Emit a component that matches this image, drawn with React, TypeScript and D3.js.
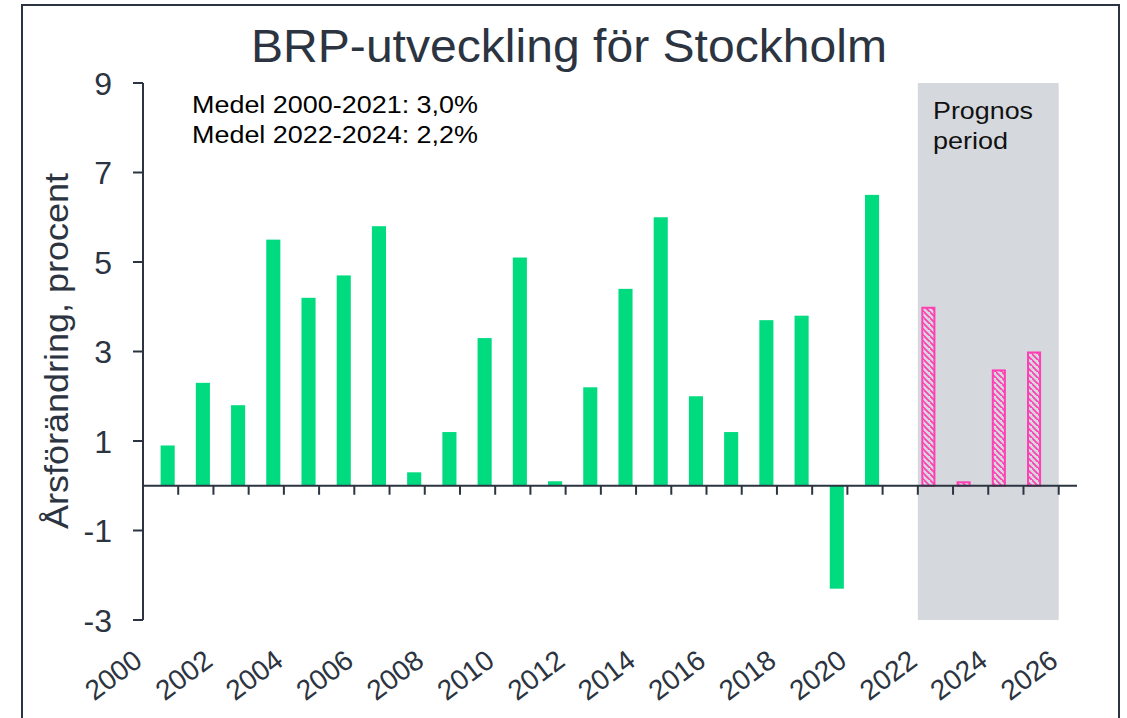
import React from "react";
import * as d3 from "d3";

const title = "BRP-utveckling för Stockholm";
const yAxisTitle = "Årsförändring, procent";
const annotations = ["Medel 2000-2021: 3,0%", "Medel 2022-2024: 2,2%"];
const forecastLabel = ["Prognos", "period"];

const categories = d3.range(2000, 2026); // 2000..2025
const tickLabelYears = [2000, 2002, 2004, 2006, 2008, 2010, 2012, 2014, 2016, 2018, 2020, 2022, 2024, 2026];
const yTicks = [9, 7, 5, 3, 1, -1, -3];

const actualYears = d3.range(2000, 2021);
const actualValues = [0.9, 2.3, 1.8, 5.5, 4.2, 4.7, 5.8, 0.3, 1.2, 3.3, 5.1, 0.1, 2.2, 4.4, 6.0, 2.0, 1.2, 3.7, 3.8, -2.3, 6.5];

const forecastYears = [2022, 2023, 2024, 2025];
const forecastValues = [4.0, 0.1, 2.6, 3.0];

const forecastPeriod = [2022, 2026];

const W = 1127, H = 718;
const AX = "#2b3440";
const GREEN = "#00db80";
const PINK = "#ff3fb4";
const GRAY = "#d5d8dd";
const FONT = "'Liberation Sans', Arial, sans-serif";

export default function App() {
  const x0 = 143, x1 = 1058.7;
  const x = d3.scaleBand<number>().domain(categories).range([x0, x1]).paddingInner(0).paddingOuter(0);
  const bw = x.bandwidth();
  const sub = d3.scaleBand<string>().domain(["forecast", "actual"]).range([bw * 0.1, bw * 0.9]);
  const boundary = (yr: number) => x0 + (yr - 2000) * bw;
  const y = d3.scaleLinear().domain([-3, 9]).range([620, 83]);
  const y0 = y(0);

  return (
    <svg width={W} height={H} style={{ position: "absolute", left: 0, top: 0 }} fontFamily={FONT}>
      <defs>
        <pattern id="hatch" patternUnits="userSpaceOnUse" width={6} height={6}>
          <path d="M-1,-1 L7,7 M-4,2 L2,8 M4,-4 L10,2" stroke={PINK} strokeWidth={1.8} />
        </pattern>
      </defs>
      <rect x={0} y={0} width={W} height={H} fill="#fff" />
      <rect x={22} y={5} width={1097} height={740} fill="none" stroke={AX} strokeWidth={2} />

      <text x={569} y={62} textAnchor="middle" fontSize={46} fill={AX} textLength={636} lengthAdjust="spacingAndGlyphs">{title}</text>

      {/* forecast shading */}
      <rect x={boundary(forecastPeriod[0])} y={y(9)} width={boundary(forecastPeriod[1]) - boundary(forecastPeriod[0])} height={y(-3) - y(9)} fill={GRAY} />
      <text x={933} y={119} fontSize={24.5} fill="#111" textLength={100} lengthAdjust="spacingAndGlyphs">{forecastLabel[0]}</text>
      <text x={933} y={149} fontSize={24.5} fill="#111" textLength={75} lengthAdjust="spacingAndGlyphs">{forecastLabel[1]}</text>

      {/* annotations */}
      <text x={192} y={113} fontSize={23} fill="#000" textLength={286} lengthAdjust="spacingAndGlyphs">{annotations[0]}</text>
      <text x={192} y={143} fontSize={23} fill="#000" textLength={286} lengthAdjust="spacingAndGlyphs">{annotations[1]}</text>

      {/* actual bars */}
      {actualYears.map((yr, i) => {
        const v = actualValues[i];
        const bx = (x(yr) as number) + (sub("actual") as number);
        return <rect key={"a" + yr} x={bx} y={Math.min(y(v), y0)} width={sub.bandwidth()} height={Math.abs(y(v) - y0)} fill={GREEN} />;
      })}

      {/* forecast bars */}
      {forecastYears.map((yr, i) => {
        const v = forecastValues[i];
        const bx = (x(yr) as number) + (sub("forecast") as number);
        const top = Math.min(y(v), y0);
        const h = Math.abs(y(v) - y0);
        return (
          <g key={"f" + yr}>
            <rect x={bx + 1} y={top + 1} width={sub.bandwidth() - 2} height={Math.max(h - 1, 1)} fill="url(#hatch)" stroke={PINK} strokeWidth={2} />
          </g>
        );
      })}

      {/* y axis */}
      <line x1={x0} x2={x0} y1={y(9)} y2={y(-3)} stroke={AX} strokeWidth={2} />
      {yTicks.map((t) => (
        <g key={"yt" + t}>
          <line x1={x0 - 10} x2={x0} y1={y(t)} y2={y(t)} stroke={AX} strokeWidth={2} />
          <text x={112} y={y(t) + 11.5} textAnchor="end" fontSize={32} fill={AX}>{t}</text>
        </g>
      ))}
      <text transform={`translate(68,351) rotate(-90)`} textAnchor="middle" fontSize={34} fill={AX} textLength={356} lengthAdjust="spacingAndGlyphs">{yAxisTitle}</text>

      {/* x axis */}
      <line x1={x0} x2={1077} y1={y0} y2={y0} stroke={AX} strokeWidth={2} />
      {categories.map((c) => (
        <line key={"xt" + c} x1={boundary(c + 1)} x2={boundary(c + 1)} y1={y0} y2={y0 + 9} stroke={AX} strokeWidth={2} />
      ))}
      {tickLabelYears.map((yr) => (
        <text key={"xl" + yr} transform={`translate(${boundary(yr) + 1},${664}) rotate(-37)`} textAnchor="end" fontSize={28} fill={AX}>{yr}</text>
      ))}
    </svg>
  );
}
